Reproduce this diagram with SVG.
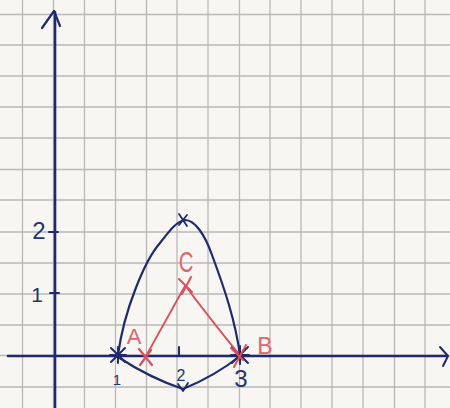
<svg xmlns="http://www.w3.org/2000/svg" width="450" height="408" viewBox="0 0 450 408">
<defs>
<style>
.grid line{stroke:#b9b9b9;stroke-width:1.3}
.ink{stroke:#1f2a6b;fill:none;stroke-linecap:round;stroke-linejoin:round}
.red{stroke:#d9505c;fill:none;stroke-linecap:round;stroke-linejoin:round}
.tb{fill:#26336e;font-family:"Liberation Sans",Arial,sans-serif}
.tr{fill:#e06470;font-family:"Liberation Sans",Arial,sans-serif}
</style>
</defs>
<rect width="450" height="408" fill="#f7f6f2"/>
<g class="grid" id="grid">
<line x1="22.5" y1="0" x2="22.5" y2="408"/>
<line x1="53.5" y1="0" x2="53.5" y2="408"/>
<line x1="84.5" y1="0" x2="84.5" y2="408"/>
<line x1="115.5" y1="0" x2="115.5" y2="408"/>
<line x1="146.5" y1="0" x2="146.5" y2="408"/>
<line x1="177" y1="0" x2="177" y2="408"/>
<line x1="208" y1="0" x2="208" y2="408"/>
<line x1="239.5" y1="0" x2="239.5" y2="408"/>
<line x1="270" y1="0" x2="270" y2="408"/>
<line x1="301" y1="0" x2="301" y2="408"/>
<line x1="332" y1="0" x2="332" y2="408"/>
<line x1="363" y1="0" x2="363" y2="408"/>
<line x1="394.5" y1="0" x2="394.5" y2="408"/>
<line x1="425" y1="0" x2="425" y2="408"/>
<line x1="0" y1="14.5" x2="450" y2="14.5"/>
<line x1="0" y1="45" x2="450" y2="45"/>
<line x1="0" y1="76" x2="450" y2="76"/>
<line x1="0" y1="107" x2="450" y2="107"/>
<line x1="0" y1="138" x2="450" y2="138"/>
<line x1="0" y1="169.5" x2="450" y2="169.5"/>
<line x1="0" y1="200" x2="450" y2="200"/>
<line x1="0" y1="232" x2="450" y2="232"/>
<line x1="0" y1="263" x2="450" y2="263"/>
<line x1="0" y1="294" x2="450" y2="294"/>
<line x1="0" y1="325" x2="450" y2="325"/>
<line x1="0" y1="355.5" x2="450" y2="355.5"/>
<line x1="0" y1="387" x2="450" y2="387"/>
</g>
<g id="axes" class="ink">
<path d="M55,408 L55,12" stroke-width="2.6"/>
<path d="M42,28 L54,11 L60,26" stroke-width="2.2"/>
<path d="M8,356 L447,356" stroke-width="2.6"/>
<path d="M440,347 L448,356 L443,366" stroke-width="2"/>
<path d="M49,232 L58,232" stroke-width="2"/>
<path d="M50,293 L59,293" stroke-width="2"/>
<path d="M179,347 L179,356" stroke-width="2"/>
</g>
<g id="axis-labels">
<text class="tb" x="39" y="239" font-size="24" text-anchor="middle">2</text>
<text class="tb" x="37" y="302" font-size="21" text-anchor="middle">1</text>
<text class="tb" x="117" y="385" font-size="15" text-anchor="middle">1</text>
<text class="tb" x="181" y="381" font-size="16" text-anchor="middle">2</text>
<text class="tb" x="241" y="387" font-size="24" text-anchor="middle">3</text>
</g>
<g id="curve" class="ink" stroke-width="2.2">
<path d="M118,355 C124,310 145,260 160,243 C170,230 177,221 185,220 C195,220 205,235 212,255 C225,290 235,320 240,355"/>
<path d="M118,357 Q150,378 183,389 Q215,376 240,356"/>
</g>
<g id="point-1" class="ink" stroke-width="2">
<path d="M111,348 L125,362 M125,348 L111,362 M118,347 L118,363 M110,355 L126,355"/>
</g>
<g id="point-3" class="ink" stroke-width="2">
<path d="M232,347 L248,363 M248,347 L232,363 M240,346 L240,364 M231,355 L249,355"/>
</g>
<g id="point-top" class="ink" stroke-width="1.8">
<path d="M179,214 L187,226 M187,215 L179,225"/>
</g>
<g id="point-bottom" class="ink" stroke-width="1.8">
<path d="M178,384 L183,391 L188,383"/>
</g>
<g id="connectors">
<path class="red" d="M185,286 L146,356" stroke="#e27b86" stroke-width="1.8"/>
<path class="red" d="M187,288 C200,305 215,325 238,353" stroke-width="1.8"/>
</g>
<g id="point-A" class="red" stroke-width="2.2">
<path d="M139,349 L152,365 M151,350 L140,365"/>
</g>
<g id="point-C" class="red" stroke-width="2">
<path d="M179,279 L192,292 M191,277 L182,294"/>
</g>
<g id="point-B" class="red" stroke-width="2">
<path d="M231,348 L243,360 M246,345 L234,367"/>
</g>
<g id="point-labels">
<text class="tr" x="134" y="344" font-size="22" text-anchor="middle">A</text>
<text class="tr" x="265" y="354" font-size="23" text-anchor="middle">B</text>
<text class="tr" font-size="29" text-anchor="middle" transform="translate(186,272) scale(0.7,1)">C</text>
</g>
</svg>
